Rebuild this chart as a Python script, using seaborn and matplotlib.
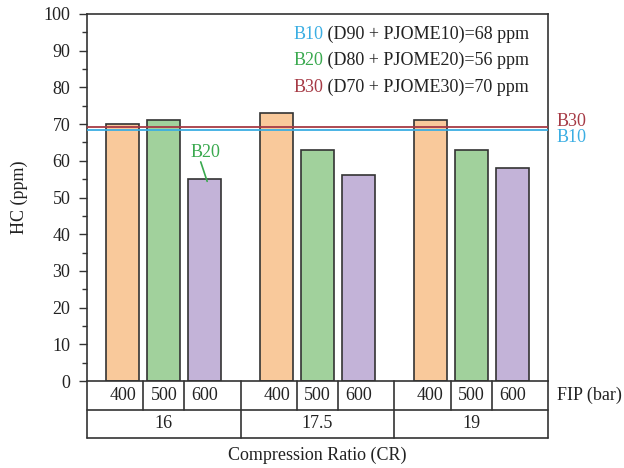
import matplotlib
matplotlib.use("Agg")
import matplotlib.pyplot as plt
import matplotlib.transforms as mtransforms
from matplotlib.ticker import MultipleLocator
import seaborn as sns
import pandas as pd

# ---- data ----
cr_groups = ["16", "17.5", "19"]
fip_levels = ["400", "500", "600"]
hc_fip400 = [70, 73, 71]
hc_fip500 = [71, 63, 63]
hc_fip600 = [55, 56, 58]
ref_names = ["B10", "B20", "B30"]
ref_desc = ["(D90 + PJOME10)=68 ppm", "(D80 + PJOME20)=56 ppm", "(D70 + PJOME30)=70 ppm"]
ref_line_b10 = 68.4
ref_line_b30 = 69.3
ref_b20 = 56

rows = []
for i, cr in enumerate(cr_groups):
    for fip, vals in zip(fip_levels, [hc_fip400, hc_fip500, hc_fip600]):
        rows.append({"CR": cr, "FIP": fip, "HC": vals[i]})
df = pd.DataFrame(rows)

sns.set_theme(style="white")
plt.rcParams["font.family"] = ["Liberation Serif", "DejaVu Serif"]
FS = 13
plt.rcParams["font.size"] = FS
TXT = "#222222"

fig = plt.figure(figsize=(6.24, 4.68), dpi=100)
ax = fig.add_axes([87/624, 1-381/468, (548-87)/624, (381-14)/468])

pal = {"400": "#F9C99B", "500": "#A1D19C", "600": "#C3B3D8"}
sns.barplot(data=df, x="CR", y="HC", hue="FIP", order=cr_groups, hue_order=fip_levels,
            palette=pal, saturation=1, width=0.8, gap=0.19, edgecolor="#333333",
            linewidth=1.2, ax=ax, legend=False, errorbar=None, zorder=2)

ax.set_xlim(-0.5, 2.5)
ax.set_ylim(0, 100)
ax.yaxis.set_major_locator(MultipleLocator(10))
ax.yaxis.set_minor_locator(MultipleLocator(5))
ax.tick_params(axis="y", which="major", direction="out", length=6, width=1, color="#333333",
               left=True, labelsize=FS, pad=6, labelcolor=TXT)
ax.tick_params(axis="y", which="minor", direction="out", length=3.6, width=1, color="#333333", left=True)
ax.tick_params(axis="x", bottom=False, labelbottom=False)
ax.set_xlabel("")
ax.set_ylabel("HC (ppm)", fontsize=FS, color=TXT)
ax.yaxis.set_label_coords(-0.128, 0.5)
for s in ax.spines.values():
    s.set_visible(True)
    s.set_color("#333333")
    s.set_linewidth(1.2)

# reference lines
c_b10, c_b20, c_b30 = "#3BAEE3", "#3AA94F", "#A63A45"
ax.axhline(ref_line_b30, color=c_b30, lw=1.3, zorder=3)
ax.axhline(ref_line_b10, color=c_b10, lw=1.3, zorder=3)

trans_r = mtransforms.blended_transform_factory(ax.transAxes, ax.transData)
ax.text(1.019, ref_line_b30 + 0.2, ref_names[2], color=c_b30, fontsize=FS,
        transform=trans_r, va="baseline", ha="left", clip_on=False)
ax.text(1.019, ref_line_b10 + 0.4, ref_names[0], color=c_b10, fontsize=FS,
        transform=trans_r, va="top", ha="left", clip_on=False)

# legend-like text block
name_colors = [c_b10, c_b20, c_b30]
ys = [0.943, 0.872, 0.801]
for nm, desc, c, yy in zip(ref_names, ref_desc, name_colors, ys):
    t = ax.text(0.447, yy, nm, color=c, fontsize=FS, transform=ax.transAxes, va="center", ha="left")
    ax.annotate(" " + desc, xy=(1, 0), xycoords=t, va="bottom", ha="left",
                fontsize=FS, color=TXT)

# B20 annotation
ax.text(0.27, 62.2, ref_names[1], color=c_b20, fontsize=FS, ha="center", va="center")
ax.annotate("", xy=(0.282, ref_b20 - 1.6), xytext=(0.24, 59.7),
            arrowprops=dict(arrowstyle="-", color=c_b20, lw=1.2, shrinkA=0, shrinkB=0))

# table below
tb = mtransforms.blended_transform_factory(ax.transData, ax.transAxes)
r1 = -29/367
r2 = -57/367
lc = "#333333"
lw = 1.2
ax.plot([-0.5, 2.5], [r1, r1], transform=tb, color=lc, lw=lw, clip_on=False)
ax.plot([-0.5, 2.5], [r2, r2], transform=tb, color=lc, lw=lw, clip_on=False)
ax.plot([-0.5, -0.5], [0, r2], transform=tb, color=lc, lw=lw, clip_on=False)
ax.plot([2.5, 2.5], [0, r2], transform=tb, color=lc, lw=lw, clip_on=False)
off = 0.8/3
for g in range(len(cr_groups)):
    for b in (-off/2, off/2):
        ax.plot([g + b, g + b], [0, r1], transform=tb, color=lc, lw=lw, clip_on=False)
    if g > 0:
        ax.plot([g - 0.5, g - 0.5], [0, r2], transform=tb, color=lc, lw=lw, clip_on=False)
    for k, f in enumerate(fip_levels):
        ax.text(g + (k - 1) * off, r1/2, f, transform=tb, ha="center", va="center",
                fontsize=FS, color=TXT)
    ax.text(g, (r1 + r2)/2, cr_groups[g], transform=tb, ha="center", va="center",
            fontsize=FS, color=TXT)

ax.text(1.019, r1/2, "FIP (bar)", transform=ax.transAxes, ha="left", va="center",
        fontsize=FS, color=TXT, clip_on=False)
ax.text(0.5, -74/367, "Compression Ratio (CR)", transform=ax.transAxes, ha="center", va="center",
        fontsize=FS, color=TXT)

fig.savefig("out.png", dpi=100)
